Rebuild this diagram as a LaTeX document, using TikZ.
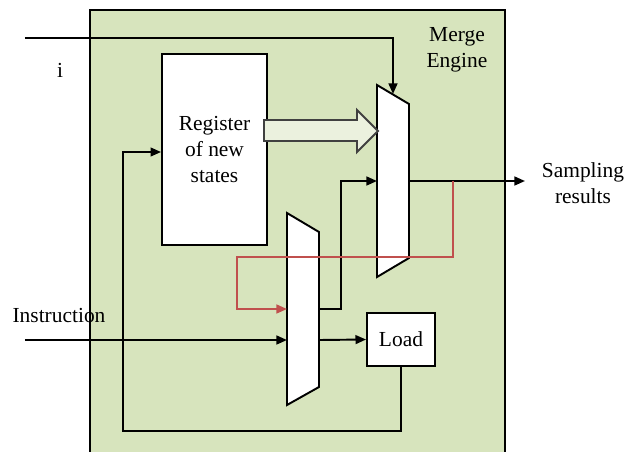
\documentclass[tikz,border=0pt]{standalone}
\usepackage{fontspec}
\setmainfont{Liberation Serif}
\usetikzlibrary{arrows.meta}
\definecolor{enginegreen}{HTML}{D7E4BD}
\definecolor{hollowfill}{HTML}{EBF1DE}
\definecolor{feedred}{HTML}{C0504D}

\begin{document}
\begin{tikzpicture}[x=0.02cm,y=-0.02cm,line width=1.1pt,
	lbl/.style={font=\fontsize{12.2}{14.7}\selectfont,align=center},
	box/.style={draw,fill=white,lbl},
	mux/.style={draw,fill=white,line join=miter},
	wire/.style={-{Triangle[length=6pt,width=5pt]}}]
	\clip (0,0) rectangle (627,451);
	\fill[enginegreen] (90,10) rectangle (505,470);
	\draw (90,10) rectangle (505,470);
	\node[lbl] (engine) at (457,50) {Merge\\Engine};
	% register and load
	\node[box,minimum width=2.1cm,minimum height=3.82cm] (reg) at (214.5,149.5) {Register\\of new\\states};
	\node[box,minimum width=1.36cm,minimum height=1.06cm] (load) at (401,339.5) {Load};
	% the two multiplexers
	\draw[mux] (287,213) -- (319,232) -- (319,387) -- (287,405) -- cycle;
	\draw[mux] (377,85) -- (409,104) -- (409,258) -- (377,277) -- cycle;
	\coordinate (muxAtop) at (393,94);
	\coordinate (muxAin) at (377,181);
	\coordinate (muxAout) at (409,181);
	\coordinate (muxBfb) at (287,309);
	\coordinate (muxBin) at (287,340);
	\coordinate (muxBout) at (319,309);
	\coordinate (muxBload) at (319,340);
	% hollow arrow
	\draw[draw=black!75,fill=hollowfill,line join=miter] (264,120) -- (357,120) -- (357,110) -- (378,131) -- (357,152) -- (357,141) -- (264,141) -- cycle;
	% wires
	\coordinate (iin) at (25,38);
	\node[lbl] (ilbl) at (60,70) {i};
	\draw[wire] (iin) -| (muxAtop);
	\coordinate (instrin) at (25,340);
	\node[lbl] (instrlbl) at (59,316) {Instruction};
	\draw[wire] (instrin) -- (muxBin);
	\draw[wire] (muxBload) -- (load.west);
	\draw[wire] (muxBout) -- (341,309) |- (muxAin);
	\coordinate (samp) at (525,181);
	\draw[wire] (muxAout) -- (samp);
	\node[lbl] (samplbl) at (583,183) {Sampling\\results};
	\draw[wire,feedred] (453,181) -- (453,257) -| (237,309) -- (muxBfb);
	\draw[wire] (load.south) -- (401,431) -| (123,152) -- (reg.west |- 0,152);
\end{tikzpicture}
\end{document}
